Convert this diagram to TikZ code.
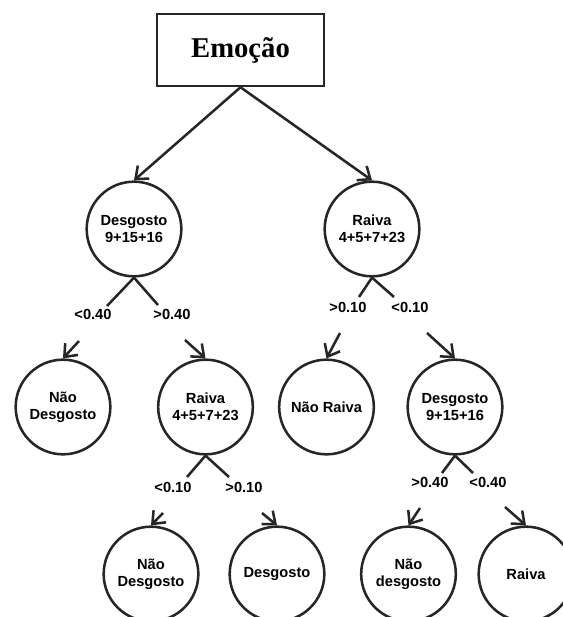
\documentclass[tikz,border=0pt]{standalone}
\usepackage{fontspec}
\setmainfont{Liberation Sans}
\newfontfamily\titlefont{Liberation Serif}
\usetikzlibrary{arrows.meta}

\tikzset{
  px/.style={x=0.75pt,y=-0.75pt},
  title/.style={draw=black!85, line width=1.9pt, minimum width=125pt, minimum height=54pt,
    inner sep=0pt, font=\titlefont\bfseries\fontsize{21.5}{24}\selectfont},
  leaf/.style={draw=black!85, circle, line width=1.9pt, minimum size=71pt, inner sep=0pt,
    align=center, font=\bfseries\fontsize{11}{12.8}\selectfont},
  cond/.style={inner sep=1pt, font=\bfseries\fontsize{11}{12.8}\selectfont},
  link/.style={draw=black!85, line width=1.9pt},
  arr/.style={link, -{Straight Barb[length=8pt,width=13pt,line width=1.9pt]}},
}

\begin{document}
\begin{tikzpicture}[px]
  \useasboundingbox (0,0) rectangle (563,617);
  \clip (0,0) rectangle (563,617);

  % root
  \node[title] (emo) at (240.5,50) {Emoção};

  % first level
  \node[leaf] (d1) at (134,229) {Desgosto\\9+15+16};
  \node[leaf] (r1) at (372,229) {Raiva\\4+5+7+23};

  % second level
  \node[leaf] (nd1) at (63,407) {Não\\Desgosto};
  \node[leaf] (r2) at (205.5,407) {Raiva\\4+5+7+23};
  \node[leaf] (nr) at (326.5,407) {Não Raiva};
  \node[leaf] (d2) at (455,407) {Desgosto\\9+15+16};

  % third level
  \node[leaf] (nd3) at (151,574) {Não\\Desgosto};
  \node[leaf] (dg3) at (277,574) {Desgosto};
  \node[leaf] (nd4) at (408.5,574) {Não\\desgosto};
  \node[leaf] (ra4) at (526,574) {Raiva};

  % branch conditions
  \node[cond] (c1) at (93,314) {<0.40};
  \node[cond] (c2) at (172,314) {>0.40};
  \node[cond] (c3) at (348,307) {>0.10};
  \node[cond] (c4) at (410,307) {<0.10};
  \node[cond] (c5) at (173,487) {<0.10};
  \node[cond] (c6) at (244,487) {>0.10};
  \node[cond] (c7) at (430,482) {>0.40};
  \node[cond] (c8) at (488,482) {<0.40};

  % break points around the condition labels
  \coordinate (a1) at (107,306);  \coordinate (b1) at (79,341);
  \coordinate (a2) at (158,305);  \coordinate (b2) at (185,340);
  \coordinate (a3) at (359,297);  \coordinate (b3) at (340,333);
  \coordinate (a4) at (394,297);  \coordinate (b4) at (427,333);
  \coordinate (a5) at (187,477);  \coordinate (b5) at (163,513);
  \coordinate (a6) at (229,477);  \coordinate (b6) at (262,513);
  \coordinate (a7) at (442,473);  \coordinate (b7) at (420,508);
  \coordinate (a8) at (473,473);  \coordinate (b8) at (505,507);

  % root edges
  \draw[arr] (emo.south) -- (d1.north);
  \draw[arr] (emo.south) -- (r1.north);

  % split edges
  \draw[link] (d1.south) -- (a1);  \draw[arr] (b1) -- (nd1.north);
  \draw[link] (d1.south) -- (a2);  \draw[arr] (b2) -- (r2.north);
  \draw[link] (r1.south) -- (a3);  \draw[arr] (b3) -- (nr.north);
  \draw[link] (r1.south) -- (a4);  \draw[arr] (b4) -- (d2.north);
  \draw[link] (r2.south) -- (a5);  \draw[arr] (b5) -- (nd3.north);
  \draw[link] (r2.south) -- (a6);  \draw[arr] (b6) -- (dg3.north);
  \draw[link] (d2.south) -- (a7);  \draw[arr] (b7) -- (nd4.north);
  \draw[link] (d2.south) -- (a8);  \draw[arr] (b8) -- (ra4.north);
\end{tikzpicture}
\end{document}
